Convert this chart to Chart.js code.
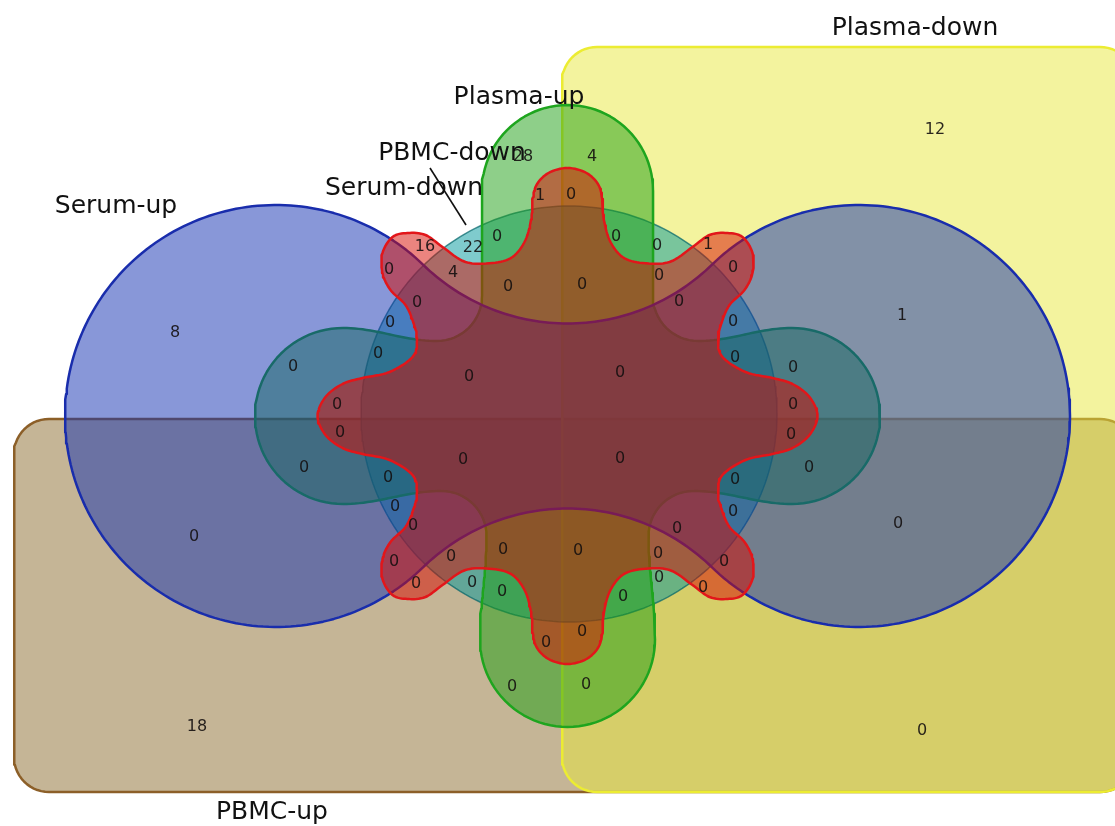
<!DOCTYPE html>
<html>
<head>
<meta charset="utf-8">
<script src="https://cdn.jsdelivr.net/npm/chart.js@4.4.1/dist/chart.umd.min.js"></script>
<style>
  html, body { margin: 0; padding: 0; background: #ffffff; }
  #wrap { width: 1115px; height: 826px; position: relative; }
</style>
</head>
<body>
<div id="wrap"><canvas id="venn"></canvas></div>
<script>
// ---- data -------------------------------------------------------------
const setNames = ['PBMC-up', 'Plasma-down', 'Serum-down', 'Plasma-up', 'Serum-up', 'PBMC-down'];

// number of items in each region, grouped by quarter of the diagram
const countsUpperLeft  = [8, 28, 1, 0, 16, 22, 0, 4, 0, 0, 0, 0, 0, 0, 0];
const countsUpperRight = [12, 1, 4, 0, 0, 0, 1, 0, 0, 0, 0, 0, 0, 0, 0, 0];
const countsLowerLeft  = [18, 0, 0, 0, 0, 0, 0, 0, 0, 0, 0, 0, 0, 0, 0, 0];
const countsLowerRight = [0, 0, 0, 0, 0, 0, 0, 0, 0, 0, 0, 0, 0, 0, 0, 0];
const regionCounts = [...countsUpperLeft, ...countsUpperRight, ...countsLowerLeft, ...countsLowerRight];

// ---- layout (plot units: x 0..1115 left->right, y 0..826 top->bottom) --
const LAYOUT = {
  cx: 567.5, cy: 416,
  rectLow:   { x0: 14,  y0: 419, x1: 1135, y1: 792, r: 35 },
  rectRight: { x0: 562, y0: 47,  x1: 1135, y1: 792, r: 35 },
  ring:      { cx: 569, cy: 414, r: 208 },
  dumbbell:  { d: 291.5, r: 211, h: 92.5 },
  cross: {
    up:   { len: 311,   bulb: 85.5, neck: 85.5 },
    down: { len: 311,   bulb: 87.5, neck: 81 },
    side: { len: 312.5, bulb: 88,   neck: 75 },
    fillet: 45
  },
  // one quarter of the eight-lobed outline, from the top tip to the right tip
  star: [[0,-248],[19,-243],[31,-231],[35,-215],[36,-199],[42,-176],[55,-159],[75,-153],
         [102,-154],[125,-169],[142,-181],[160,-183],[175,-179],[185,-163],[185,-143],
         [177,-126],[162,-111],[154,-93],[150.5,-76],[155,-59],[178,-44],[205,-38],
         [225,-32],[242,-19],[250,0]],
  countAt: [
    [175,333],[523,157],[540,196],[497,237],[425,247],[473,248],[389,270],[453,273],
    [508,287],[417,303],[390,323],[378,354],[293,367],[337,405],[469,377],
    [935,130],[902,316],[592,157],[571,195],[616,237],[657,246],[708,245],[659,276],
    [733,268],[582,285],[679,302],[733,322],[735,358],[793,368],[793,405],[620,373],
    [197,727],[194,537],[340,433],[463,460],[304,468],[388,478],[395,507],[413,526],
    [394,562],[451,557],[416,584],[472,583],[503,550],[502,592],[546,643],[512,687],
    [922,731],[898,524],[791,435],[809,468],[735,480],[733,512],[677,529],[658,554],
    [724,562],[659,578],[703,588],[623,597],[620,459],[578,551],[582,632],[586,685]
  ],
  nameAt: [[272,812],[915,28],[404,188],[519,97],[116,206],[452,153]],
  pointer: [[430,168],[466,225]]
};

// ---- outline builders ---------------------------------------------------
function arc(cx, cy, r, a0, a1, n) {
  const p = [];
  for (let i = 0; i <= n; i++) {
    const a = a0 + (a1 - a0) * i / n;
    p.push([cx + r * Math.cos(a), cy + r * Math.sin(a)]);
  }
  return p;
}

function roundedRect(g) {
  const p = [];
  p.push(...arc(g.x1 - g.r, g.y0 + g.r, g.r, -Math.PI / 2, 0, 14));
  p.push(...arc(g.x1 - g.r, g.y1 - g.r, g.r, 0, Math.PI / 2, 14));
  p.push(...arc(g.x0 + g.r, g.y1 - g.r, g.r, Math.PI / 2, Math.PI, 14));
  p.push(...arc(g.x0 + g.r, g.y0 + g.r, g.r, Math.PI, 1.5 * Math.PI, 14));
  p.push(p[0]);
  return p;
}

function ringShape(g) {
  return arc(g.cx, g.cy, g.r, 0, 2 * Math.PI, 240);
}

// two lobes joined by a waist whose edges are circles tangent to both lobes
function dumbbellShape(cx, cy, g) {
  const { d, r, h } = g;
  const R = (d * d + h * h - r * r) / (2 * (r - h));
  const k = h + R;
  const p = [];
  p.push(...arc(cx - d, cy, r, Math.atan2(k, d), Math.atan2(-k, d) + 2 * Math.PI, 180));
  p.push(...arc(cx, cy - k, R, Math.atan2(k, -d), Math.atan2(k, d), 70));
  p.push(...arc(cx + d, cy, r, Math.atan2(-k, -d), Math.atan2(k, -d), 180));
  p.push(...arc(cx, cy + k, R, Math.atan2(-k, d), Math.atan2(-k, -d), 70));
  p.push(p[0]);
  return p;
}

// one quarter of the cross: from the tip of the vertical arm to the tip of the side arm
function crossQuarter(v, hArm, fr) {
  const q = [];
  const vc = v.len - v.bulb;
  for (let i = 0; i <= 24; i++) {
    const a = (Math.PI / 2) * i / 24;
    q.push([v.bulb * Math.sin(a), -(vc + v.bulb * Math.cos(a))]);
  }
  const yEnd = hArm.neck + fr;
  for (let i = 1; i <= 20; i++) {
    const t = i / 20, s = (1 - Math.cos(Math.PI * t)) / 2;
    q.push([v.bulb + (v.neck - v.bulb) * s, -(vc + (yEnd - vc) * t)]);
  }
  const fx = v.neck + fr;
  for (let i = 1; i <= 16; i++) {
    const a = Math.PI - (Math.PI / 2) * i / 16;
    q.push([fx + fr * Math.cos(a), -yEnd + fr * Math.sin(a)]);
  }
  const hc = hArm.len - hArm.bulb;
  for (let i = 1; i <= 24; i++) {
    const t = i / 24, s = (1 - Math.cos(Math.PI * t)) / 2;
    q.push([fx + (hc - fx) * t, -(hArm.neck + (hArm.bulb - hArm.neck) * s)]);
  }
  for (let i = 1; i <= 24; i++) {
    const a = (Math.PI / 2) * i / 24;
    q.push([hc + hArm.bulb * Math.sin(a), -hArm.bulb * Math.cos(a)]);
  }
  return q;
}

function crossShape(cx, cy, g) {
  const place = (pts, sx, sy) => pts.map(([x, y]) => [cx + sx * x, cy + sy * y]);
  const ur = place(crossQuarter(g.up, g.side, g.fillet), 1, 1);
  const lr = place(crossQuarter(g.down, g.side, g.fillet), 1, -1).reverse();
  const ll = place(crossQuarter(g.down, g.side, g.fillet), -1, -1);
  const ul = place(crossQuarter(g.up, g.side, g.fillet), -1, 1).reverse();
  const p = [...ur, ...lr.slice(1), ...ll.slice(1), ...ul.slice(1)];
  p.push(p[0]);
  return p;
}

// closed Catmull-Rom curve through a loop of control points
function smoothLoop(ctrl, steps) {
  const n = ctrl.length, p = [];
  for (let i = 0; i < n; i++) {
    const p0 = ctrl[(i - 1 + n) % n], p1 = ctrl[i], p2 = ctrl[(i + 1) % n], p3 = ctrl[(i + 2) % n];
    for (let s = 0; s < steps; s++) {
      const t = s / steps, t2 = t * t, t3 = t2 * t;
      const f = (a, b, c, d) => 0.5 * (2 * b + (-a + c) * t + (2 * a - 5 * b + 4 * c - d) * t2 + (-a + 3 * b - 3 * c + d) * t3);
      p.push([f(p0[0], p1[0], p2[0], p3[0]), f(p0[1], p1[1], p2[1], p3[1])]);
    }
  }
  p.push(p[0]);
  return p;
}

function starShape(cx, cy, quarter) {
  const ur = quarter;
  const lr = quarter.map(([x, y]) => [x, -y]).reverse();
  const ll = quarter.map(([x, y]) => [-x, -y]);
  const ul = quarter.map(([x, y]) => [-x, y]).reverse();
  const loop = [...ur, ...lr.slice(1), ...ll.slice(1), ...ul.slice(1, -1)];
  return smoothLoop(loop.map(([x, y]) => [cx + x, cy + y]), 8);
}

const asXY = pts => pts.map(([x, y]) => ({ x, y }));

// ---- datasets (drawn bottom to top: higher order first) ----------------
function outline(label, pts, fill, stroke, width, order) {
  return {
    label, data: asXY(pts), order,
    fill: 'shape', backgroundColor: fill,
    borderColor: stroke, borderWidth: width,
    borderJoinStyle: 'round', tension: 0,
    pointRadius: 0, pointHoverRadius: 0, pointHitRadius: 0
  };
}

const L = LAYOUT;
const datasets = [
  outline(setNames[0], roundedRect(L.rectLow),   'rgba(139,107,45,0.5)', 'rgb(140,95,40)',  2.5, 5),
  outline(setNames[1], roundedRect(L.rectRight), 'rgba(231,231,61,0.5)', 'rgb(236,236,50)', 2.5, 4),
  outline(setNames[2], ringShape(L.ring),        'rgba(0,152,156,0.5)',  'rgba(0,100,104,0.7)', 1.5, 3),
  outline(setNames[3], crossShape(L.cx, L.cy, L.cross), 'rgba(30,160,20,0.5)', 'rgb(30,165,30)', 2.5, 2),
  outline(setNames[4], dumbbellShape(L.cx, L.cy, L.dumbbell), 'rgba(18,48,178,0.5)', 'rgb(25,45,172)', 2.5, 1),
  outline(setNames[5], starShape(L.cx, L.cy, L.star), 'rgba(215,10,0,0.5)', 'rgb(226,22,26)', 2.5, 0)
];

// ---- region counts, set names and the pointer line ---------------------
const vennText = {
  id: 'vennText',
  afterDatasetsDraw(chart) {
    const { ctx } = chart;
    const sx = chart.scales.x, sy = chart.scales.y;
    const px = v => sx.getPixelForValue(v), py = v => sy.getPixelForValue(v);
    ctx.save();
    ctx.textAlign = 'center';
    ctx.textBaseline = 'middle';

    ctx.font = '16px "DejaVu Sans"';
    ctx.fillStyle = 'rgba(20,15,15,0.9)';
    regionCounts.forEach((v, i) => {
      const [x, y] = L.countAt[i];
      ctx.fillText(String(v), px(x), py(y));
    });

    ctx.strokeStyle = '#111';
    ctx.lineWidth = 1.6;
    ctx.beginPath();
    ctx.moveTo(px(L.pointer[0][0]), py(L.pointer[0][1]));
    ctx.lineTo(px(L.pointer[1][0]), py(L.pointer[1][1]));
    ctx.stroke();

    ctx.font = '25px "DejaVu Sans"';
    ctx.fillStyle = '#111';
    setNames.forEach((name, i) => {
      const [x, y] = L.nameAt[i];
      ctx.fillText(name, px(x), py(y));
    });
    ctx.restore();
  }
};

new Chart(document.getElementById('venn'), {
  type: 'line',
  data: { datasets },
  options: {
    responsive: true,
    maintainAspectRatio: false,
    devicePixelRatio: 1,
    animation: false,
    events: [],
    layout: { padding: 0 },
    scales: {
      x: { type: 'linear', min: 0, max: 1115, display: false },
      y: { type: 'linear', min: 0, max: 826, reverse: true, display: false }
    },
    plugins: {
      legend: { display: false },
      tooltip: { enabled: false },
      filler: { propagate: false }
    }
  },
  plugins: [vennText]
});
</script>
</body>
</html>
